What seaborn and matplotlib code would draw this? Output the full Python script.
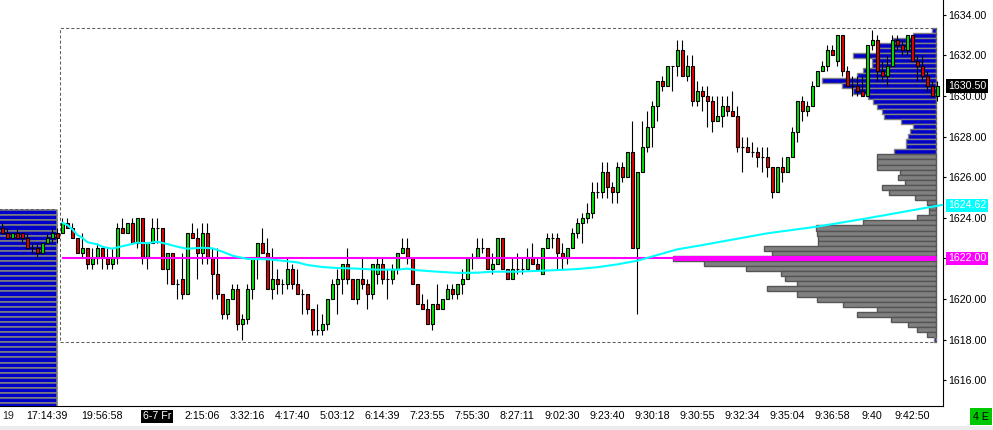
import numpy as np
import matplotlib
matplotlib.use("Agg")
import matplotlib.pyplot as plt
import seaborn as sns
from matplotlib.patches import Rectangle
from matplotlib.transforms import blended_transform_factory

# OHLC of every bar, bars 0-11 are the tail of the previous session (far left)
opens = [1623.5, 1623.25, 1623.0, 1623.25, 1623.25, 1623.0, 1622.5, 1622.5, 1622.25, 1622.75, 1623.0, 1623.25,
         1623.25, 1623.75, 1623.5, 1623.0, 1622.25, 1622.5, 1621.75, 1622.0, 1622.5, 1622.0, 1621.75, 1622.0,
         1623.5, 1623.25, 1623.75, 1622.75, 1624.0, 1622.0, 1622.75, 1623.5, 1623.5, 1621.5, 1622.25, 1620.75,
         1621.0, 1620.25, 1623.25, 1623.0, 1622.25, 1623.25, 1622.0, 1621.25, 1620.25, 1619.25, 1620.0, 1620.5,
         1618.75, 1619.0, 1620.5, 1622.0, 1622.75, 1622.25, 1620.5, 1621.0, 1620.75, 1620.75, 1621.5, 1620.75,
         1620.25, 1620.25, 1619.5, 1618.5, 1618.5, 1618.75, 1620.0, 1620.75, 1621.0, 1621.75, 1621.0, 1620.0,
         1621.0, 1620.75, 1620.25, 1621.25, 1621.75, 1621.0, 1621.0, 1621.5, 1622.25, 1622.5, 1622.0, 1620.75,
         1619.75, 1619.5, 1618.75, 1619.75, 1619.5, 1620.0, 1620.5, 1620.25, 1620.75, 1621.0, 1622.0, 1622.0,
         1622.5, 1622.5, 1621.5, 1621.75, 1623.0, 1621.5, 1621.0, 1621.5, 1621.5, 1621.5, 1622.0, 1621.75,
         1621.25, 1622.5, 1623.0, 1623.0, 1622.25, 1622.0, 1622.5, 1623.25, 1623.75, 1624.0, 1624.25, 1625.25,
         1625.25, 1626.25, 1625.5, 1625.25, 1626.5, 1626.0, 1627.25, 1622.5, 1626.25, 1627.5, 1628.5, 1629.5,
         1630.75, 1630.5, 1631.5, 1631.5, 1632.25, 1631.0, 1631.5, 1629.75, 1630.25, 1630.0, 1629.75, 1628.75,
         1629.0, 1629.5, 1629.25, 1629.0, 1627.5, 1627.5, 1627.25, 1627.25, 1627.0, 1627.0, 1626.5, 1625.25,
         1626.5, 1626.25, 1627.0, 1628.25, 1629.75, 1629.25, 1629.5, 1630.5, 1631.25, 1631.5, 1632.25, 1631.75,
         1633.0, 1631.25, 1630.5, 1630.5, 1630.25, 1630.0, 1632.5, 1632.75, 1631.25, 1631.0, 1631.5, 1632.75,
         1632.5, 1632.25, 1633.0, 1631.75, 1631.5, 1631.0, 1630.5, 1630.0]
highs = [1623.75, 1623.5, 1623.25, 1623.5, 1623.25, 1623.25, 1622.75, 1622.75, 1622.75, 1623.25, 1623.5, 1623.5,
         1624.0, 1624.0, 1623.75, 1623.0, 1623.25, 1622.5, 1622.5, 1622.75, 1622.5, 1622.5, 1622.5, 1623.75,
         1624.0, 1623.75, 1624.0, 1624.0, 1624.0, 1622.75, 1624.0, 1624.0, 1623.5, 1622.25, 1622.25, 1621.0,
         1622.25, 1623.25, 1623.75, 1623.5, 1623.75, 1623.75, 1622.5, 1622.5, 1620.25, 1620.0, 1620.75, 1620.75,
         1619.25, 1620.75, 1622.0, 1622.75, 1623.5, 1623.0, 1622.5, 1621.5, 1621.0, 1622.0, 1621.75, 1621.5,
         1620.5, 1620.25, 1619.5, 1619.75, 1619.25, 1620.0, 1621.0, 1621.5, 1621.75, 1622.5, 1621.0, 1621.0,
         1622.0, 1621.0, 1621.75, 1622.0, 1622.0, 1621.5, 1621.75, 1622.25, 1623.0, 1623.0, 1622.0, 1620.75,
         1620.25, 1620.0, 1619.75, 1620.75, 1620.0, 1620.75, 1620.75, 1620.75, 1621.5, 1622.0, 1622.25, 1623.0,
         1623.0, 1622.5, 1622.25, 1623.0, 1623.0, 1621.5, 1622.0, 1622.25, 1622.0, 1622.5, 1622.75, 1622.0,
         1622.5, 1623.25, 1623.25, 1623.25, 1622.75, 1622.5, 1623.5, 1624.0, 1624.25, 1624.75, 1625.75, 1625.75,
         1626.75, 1626.75, 1625.75, 1626.75, 1626.75, 1627.25, 1628.75, 1626.25, 1628.75, 1629.25, 1629.75, 1630.75,
         1631.0, 1631.5, 1631.5, 1632.75, 1632.75, 1632.0, 1632.0, 1630.75, 1630.5, 1630.5, 1630.0, 1630.0,
         1630.0, 1630.0, 1630.25, 1629.5, 1628.0, 1628.0, 1627.75, 1627.5, 1627.5, 1627.5, 1626.5, 1626.5,
         1627.0, 1627.0, 1628.5, 1629.75, 1630.0, 1629.75, 1630.75, 1631.25, 1631.75, 1632.5, 1632.5, 1633.0,
         1633.0, 1631.5, 1631.0, 1631.0, 1631.0, 1632.5, 1633.25, 1633.0, 1631.75, 1632.0, 1633.0, 1633.0,
         1632.75, 1633.0, 1633.0, 1632.0, 1632.0, 1631.25, 1630.75, 1630.75]
lows = [1623.25, 1623.0, 1623.0, 1623.0, 1622.75, 1622.5, 1622.25, 1622.0, 1622.25, 1622.75, 1622.75, 1622.75,
        1623.25, 1623.5, 1623.0, 1622.25, 1622.0, 1621.5, 1621.5, 1621.75, 1621.5, 1621.5, 1621.5, 1621.75,
        1623.25, 1623.25, 1622.75, 1622.5, 1621.75, 1621.5, 1622.75, 1622.75, 1621.5, 1620.75, 1620.75, 1620.0,
        1620.0, 1620.25, 1623.0, 1621.0, 1621.75, 1621.75, 1620.0, 1620.0, 1619.0, 1619.0, 1620.0, 1618.5,
        1618.0, 1618.75, 1620.0, 1621.0, 1622.25, 1620.5, 1620.0, 1620.25, 1620.25, 1620.5, 1620.5, 1620.25,
        1619.25, 1619.25, 1618.25, 1618.25, 1618.25, 1618.5, 1620.0, 1619.25, 1620.25, 1620.75, 1620.0, 1619.75,
        1620.5, 1619.5, 1620.0, 1620.75, 1620.75, 1620.0, 1620.75, 1621.25, 1622.25, 1621.75, 1620.75, 1619.75,
        1619.5, 1618.75, 1618.5, 1619.5, 1619.5, 1620.0, 1620.0, 1620.0, 1620.25, 1621.0, 1621.5, 1622.0,
        1622.25, 1621.5, 1621.25, 1621.75, 1621.5, 1621.0, 1621.0, 1621.25, 1621.25, 1621.5, 1621.75, 1621.5,
        1621.25, 1622.5, 1622.5, 1621.5, 1621.5, 1621.75, 1622.5, 1623.0, 1622.75, 1623.75, 1624.0, 1625.0,
        1625.0, 1625.0, 1624.75, 1624.75, 1625.75, 1626.0, 1622.5, 1619.25, 1626.25, 1627.25, 1627.5, 1628.75,
        1630.25, 1630.5, 1630.25, 1631.0, 1631.0, 1630.75, 1629.5, 1629.5, 1629.25, 1628.5, 1628.25, 1628.75,
        1628.5, 1629.0, 1629.0, 1627.25, 1626.25, 1627.25, 1627.0, 1626.5, 1626.25, 1626.0, 1625.0, 1625.25,
        1625.75, 1626.25, 1627.0, 1627.75, 1628.75, 1629.0, 1629.5, 1630.5, 1631.25, 1631.25, 1632.0, 1631.5,
        1631.0, 1630.5, 1630.0, 1630.0, 1630.0, 1630.0, 1632.25, 1630.75, 1630.75, 1630.5, 1631.5, 1632.25,
        1632.0, 1632.0, 1631.75, 1630.75, 1630.75, 1630.25, 1630.0, 1629.75]
closes = [1623.25, 1623.0, 1623.25, 1623.0, 1623.0, 1622.5, 1622.5, 1622.25, 1622.75, 1623.0, 1623.25, 1623.0,
          1623.75, 1623.5, 1623.0, 1622.25, 1622.5, 1621.75, 1622.0, 1622.5, 1622.0, 1621.75, 1622.0, 1623.5,
          1623.25, 1623.75, 1622.75, 1624.0, 1622.0, 1622.75, 1623.5, 1623.5, 1621.5, 1622.25, 1620.75, 1620.75,
          1620.25, 1623.25, 1623.0, 1622.25, 1623.25, 1622.0, 1621.25, 1620.25, 1619.25, 1620.0, 1620.5, 1618.75,
          1619.0, 1620.5, 1622.0, 1622.75, 1622.25, 1620.5, 1621.0, 1620.75, 1620.75, 1621.5, 1620.75, 1620.25,
          1620.25, 1619.5, 1618.5, 1618.5, 1618.75, 1620.0, 1620.75, 1621.0, 1621.75, 1621.0, 1620.0, 1621.0,
          1620.75, 1620.25, 1621.75, 1621.75, 1621.0, 1621.0, 1621.5, 1622.25, 1622.5, 1622.0, 1620.75, 1619.75,
          1619.5, 1618.75, 1619.75, 1619.5, 1620.0, 1620.5, 1620.25, 1620.75, 1621.0, 1622.0, 1622.0, 1622.5,
          1622.5, 1621.5, 1621.75, 1623.0, 1621.5, 1621.0, 1621.5, 1621.5, 1621.5, 1622.0, 1621.75, 1621.5,
          1622.5, 1623.0, 1623.0, 1622.25, 1622.0, 1622.5, 1623.25, 1623.75, 1624.0, 1624.25, 1625.25, 1625.25,
          1626.25, 1625.5, 1625.25, 1626.5, 1626.0, 1627.25, 1622.5, 1626.25, 1627.5, 1628.5, 1629.5, 1630.75,
          1630.5, 1631.5, 1631.5, 1632.25, 1631.0, 1631.5, 1629.75, 1630.25, 1630.0, 1629.75, 1628.75, 1629.0,
          1629.5, 1629.25, 1629.0, 1627.5, 1627.5, 1627.25, 1627.25, 1627.0, 1627.0, 1626.5, 1625.25, 1626.5,
          1626.25, 1627.0, 1628.25, 1629.75, 1629.25, 1629.5, 1630.5, 1631.25, 1631.5, 1632.25, 1632.0, 1633.0,
          1631.25, 1630.5, 1630.5, 1630.25, 1630.0, 1632.5, 1632.75, 1631.25, 1631.0, 1631.5, 1632.75, 1632.5,
          1632.25, 1633.0, 1631.75, 1631.5, 1631.0, 1630.5, 1630.0, 1630.5]

# session volume profile, one value per 0.25 price level from the top down
profile_top = 1633.25
tick_size = 0.25
profile_vol = [4, 23, 43, 59, 58, 83, 64, 64, 73, 79, 114, 94, 83, 68, 63, 59, 54, 52, 35, 23, 26, 28,
               30, 30, 42, 59, 59, 59, 36, 38, 31, 54, 47, 21, 9, 7, 7, 19, 73, 120, 119, 118, 118, 172,
               164, 263, 232, 190, 155, 151, 139, 169, 139, 119, 93, 59, 79, 45, 28, 19, 9, 2]
gray_high = 1627.0
gray_low = 1618.25

# previous session profile, clipped at the left edge
prev_profile_top = 1624.25
prev_profile_bottom = 1614.75

# cyan average line (bar index, price)
cyan_idx = [12, 13, 14, 15, 16, 17, 19, 20, 22, 23, 25, 27, 29, 31, 33, 35, 37, 40, 42, 44, 46, 49, 53, 56,
            59, 61, 64, 67, 71, 75, 79, 81, 83, 87, 91, 95, 98, 103, 108, 111, 115, 119, 123, 127, 131, 135,
            140, 153, 163, 173, 183, 188]
cyan_val = [1623.76, 1623.65, 1623.44, 1623.16, 1623.02, 1622.80, 1622.70, 1622.58, 1622.48, 1622.55, 1622.66,
            1622.78, 1622.75, 1622.83, 1622.71, 1622.58, 1622.48, 1622.53, 1622.50, 1622.34, 1622.14, 1621.98,
            1621.96, 1621.89, 1621.81, 1621.68, 1621.58, 1621.53, 1621.50, 1621.45, 1621.45, 1621.50, 1621.42,
            1621.35, 1621.29, 1621.30, 1621.35, 1621.35, 1621.40, 1621.43, 1621.48, 1621.57, 1621.71, 1621.89,
            1622.17, 1622.45, 1622.66, 1623.24, 1623.57, 1623.98, 1624.42, 1624.64]

poc_price = 1622.0
last_price = 1630.50
cyan_last = 1624.62
session_high = 1633.25
session_low = 1618.0

time_idx = [9, 20, 31, 40, 49, 58, 67, 76, 85, 94, 103, 112, 121, 130, 139, 148, 157, 166, 174, 182]
time_labels = ["17:14:39", "19:56:58", "6-7 Fr", "2:15:06", "3:32:16", "4:17:40", "5:03:12", "6:14:39",
               "7:23:55", "7:55:30", "8:27:11", "9:02:30", "9:23:40", "9:30:18", "9:30:55", "9:32:34",
               "9:35:04", "9:36:58", "9:40", "9:42:50"]

# colours
up_col = "#00e400"
dn_col = "#e80000"
blue = "#0000c8"
gray = "#808080"

sns.set_style("white")
plt.rcParams["font.family"] = ["Liberation Sans", "DejaVu Sans"]
fs = 7.7

fig = plt.figure(figsize=(9.93, 4.30), dpi=100)
ax = fig.add_axes([0, 1 - 405.5 / 430, 943 / 993, 405.5 / 430])
ax.set_xlim(-0.46, 188.14)
ax.set_ylim(1614.76, 1634.73)

# previous session profile on the left
prev_levels = np.arange(prev_profile_top, prev_profile_bottom - 0.01, -tick_size)
ax.barh(prev_levels, 40, left=10.84 - 40, height=tick_size, color=blue, edgecolor=gray, linewidth=1.1, zorder=1)
ax.hlines(prev_profile_top + 0.18, -1, 10.5, colors="#606060", linestyles=(0, (3, 2)), linewidth=0.75, zorder=1)

# current session profile anchored on the right
profile_right = 186.7
levels = profile_top - tick_size * np.arange(len(profile_vol))
widths = np.array(profile_vol) * 0.2
in_gray = (levels <= gray_high) & (levels >= gray_low)
fills = np.where(in_gray, gray, blue)
edges = np.where(in_gray, "#555555", gray)
ax.barh(levels, widths, left=profile_right - widths, height=tick_size, color=fills,
        edgecolor=edges, linewidth=1.0, zorder=1)

# session range box
ax.add_patch(Rectangle((11.5, session_low - 0.12), profile_right - 11.5, session_high - session_low + 0.22,
                       fill=False, edgecolor="#606060", linestyle=(0, (3, 2)), linewidth=0.75, zorder=1.5))

# candles
idx = np.arange(len(opens))
o = np.array(opens)
c = np.array(closes)
ax.vlines(idx, lows, highs, colors="black", linewidth=0.8, zorder=3)
body_col = np.where(c > o, up_col, dn_col)
ax.bar(idx, np.abs(c - o), bottom=np.minimum(o, c), width=0.66, color=body_col,
       edgecolor="black", linewidth=0.8, zorder=4)

# POC lines
ax.hlines(poc_price, 11.9, profile_right, colors="#ff00ff", linewidth=1.5, zorder=5)
ax.hlines(poc_price, profile_right - max(profile_vol) * 0.2, profile_right, colors="#ff00ff",
          linewidth=3.6, zorder=5)

# cyan average
sns.lineplot(x=cyan_idx, y=cyan_val, ax=ax, color="#00ffff", linewidth=1.5, sort=False, zorder=6)

# axes styling
for s in ["top", "left"]:
    ax.spines[s].set_visible(False)
for s in ["right", "bottom"]:
    ax.spines[s].set_color("black")
    ax.spines[s].set_linewidth(0.8)
ax.yaxis.tick_right()
yt = np.arange(1616, 1635, 2)
ax.set_yticks(yt)
ax.set_yticklabels([f"{v:.2f}" for v in yt])
ax.tick_params(axis="y", length=2.4, width=0.8, pad=1.4, labelsize=fs, colors="black")
ax.set_xticks([])
ax.set_xlabel("")
ax.set_ylabel("")

# time labels under the axis
xtr = ax.get_xaxis_transform()
for i, lab in zip(time_idx, time_labels):
    if lab == "6-7 Fr":
        ax.text(i, -0.027, lab, transform=xtr, ha="center", va="center", fontsize=fs, color="white",
                bbox=dict(boxstyle="square,pad=0.18", fc="black", ec="none"), clip_on=False)
    else:
        ax.text(i, -0.027, lab, transform=xtr, ha="center", va="center", fontsize=fs, color="black",
                clip_on=False)
ax.text(2.44, -0.027, "19", transform=xtr, ha="right", va="center", fontsize=fs, clip_on=False)

# price boxes on the right axis
ytr = blended_transform_factory(ax.transAxes, ax.transData)
for val, txt, fc in [(last_price, f"{last_price:.2f}", "black"),
                     (cyan_last, f"{cyan_last:.2f}", "#00ffff"),
                     (poc_price, f"{poc_price:.2f}", "#ff00ff")]:
    ax.text(1.0055, val, txt, transform=ytr, ha="left", va="center", fontsize=fs, color="white",
            bbox=dict(boxstyle="square,pad=0.16", fc=fc, ec="none"), zorder=10, clip_on=False)

fig.text(980.8 / 993, 1 - 416.5 / 430, "4 E", ha="center", va="center", fontsize=fs, color="black",
         bbox=dict(boxstyle="square,pad=0.3", fc="#00c800", ec="none"))
fig.patches.append(Rectangle((0, 0), 1, 4 / 430, transform=fig.transFigure, facecolor="#ececec",
                             edgecolor="none"))

fig.savefig("out.png", dpi=100)
